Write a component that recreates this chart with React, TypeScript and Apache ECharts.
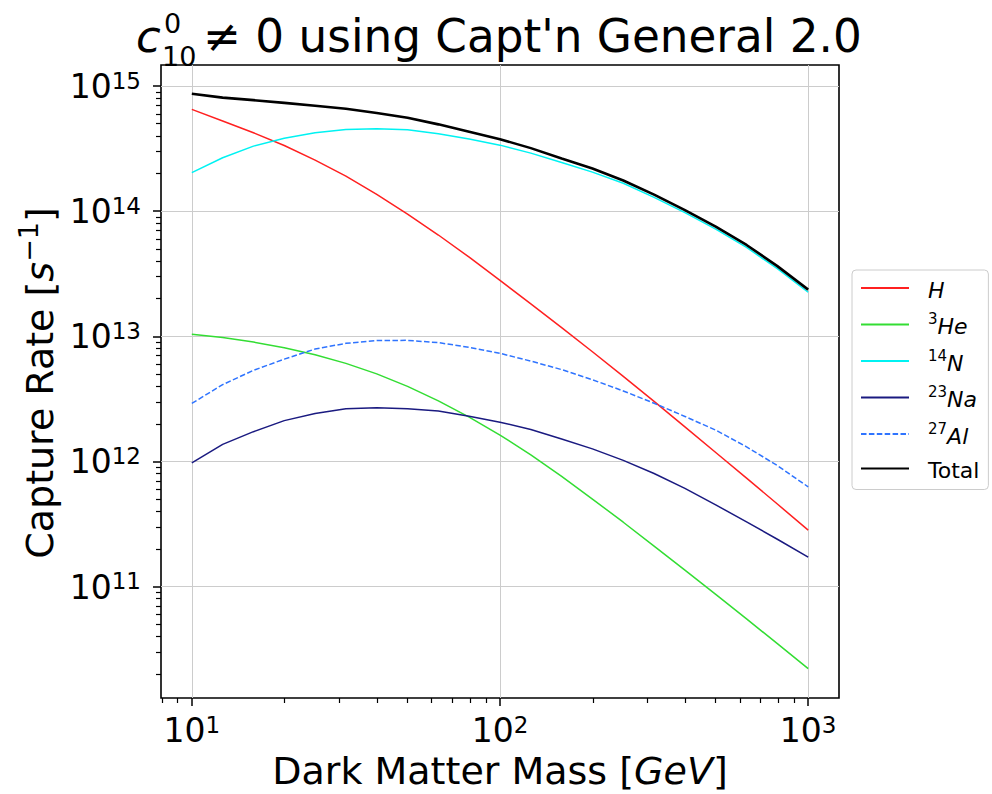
import React, { useEffect, useRef } from "react";
import * as echarts from "echarts";

// Dark matter mass grid [GeV]
const massGeV = [10, 12.59, 15.85, 19.95, 25.12, 31.62, 39.81, 50.12, 63.1, 79.43, 100, 125.9, 158.5, 199.5, 251.2, 316.2, 398.1, 501.2, 631.0, 794.3, 1000];

// Capture rates [1/s] per target element
const rateH = [6.51e14, 5.255e14, 4.233e14, 3.347e14, 2.556e14, 1.904e14, 1.363e14, 9.48e13, 6.45e13, 4.29e13, 2.8e13, 1.818e13, 1.174e13, 7.53e12, 4.78e12, 3.02e12, 1.891e12, 1.179e12, 7.36e11, 4.57e11, 2.83e11];
const rateHe3 = [1.04e13, 9.77e12, 8.99e12, 8.11e12, 7.13e12, 6.08e12, 5.01e12, 3.98e12, 3.05e12, 2.26e12, 1.626e12, 1.13e12, 7.6e11, 5.01e11, 3.27e11, 2.11e11, 1.355e11, 8.67e10, 5.52e10, 3.5e10, 2.21e10];
const rateN14 = [2.03e14, 2.67e14, 3.31e14, 3.82e14, 4.23e14, 4.5e14, 4.55e14, 4.47e14, 4.15e14, 3.77e14, 3.37e14, 2.91e14, 2.45e14, 2.05e14, 1.67e14, 1.29e14, 9.73e13, 7.18e13, 5.13e13, 3.47e13, 2.25e13];
const rateNa23 = [9.76e11, 1.37e12, 1.73e12, 2.12e12, 2.42e12, 2.64e12, 2.69e12, 2.64e12, 2.53e12, 2.3e12, 2.06e12, 1.8e12, 1.51e12, 1.26e12, 1.02e12, 8.02e11, 6.09e11, 4.5e11, 3.29e11, 2.39e11, 1.72e11];
const rateAl27 = [2.91e12, 4.11e12, 5.35e12, 6.57e12, 7.91e12, 8.79e12, 9.24e12, 9.29e12, 8.9e12, 8.17e12, 7.31e12, 6.34e12, 5.42e12, 4.5e12, 3.66e12, 2.92e12, 2.29e12, 1.78e12, 1.31e12, 9.27e11, 6.27e11];
const rateTotal = [8.67e14, 8.08e14, 7.71e14, 7.34e14, 6.96e14, 6.58e14, 6.08e14, 5.58e14, 4.94e14, 4.32e14, 3.76e14, 3.19e14, 2.64e14, 2.19e14, 1.76e14, 1.357e14, 1.02e14, 7.53e13, 5.37e13, 3.64e13, 2.36e13];

const seriesNames = ["H", "3He", "14N", "23Na", "27Al", "Total"];

// Major tick values
const majorX = [10, 100, 1000];
const majorY = [1e11, 1e12, 1e13, 1e14, 1e15];

const FONT = "DejaVu Sans";
const X_MIN = Math.pow(10, 0.9);
const X_MAX = Math.pow(10, 3.1);
const Y_MIN = Math.pow(10, 10.11);
const Y_MAX = Math.pow(10, 15.168);

function minorTicks(lo: number, hi: number): number[] {
  const out: number[] = [];
  for (let d = Math.floor(Math.log10(lo)); d <= Math.ceil(Math.log10(hi)); d++) {
    for (let k = 2; k <= 9; k++) {
      const v = k * Math.pow(10, d);
      if (v >= lo && v <= hi) out.push(v);
    }
  }
  return out;
}

const powLabel = (v: number) => `{b|10}{s|${Math.round(Math.log10(v))}}`;

const tickRich = {
  b: { fontFamily: FONT, fontSize: 33, color: "#000", lineHeight: 34, verticalAlign: "bottom" },
  s: { fontFamily: FONT, fontSize: 23, color: "#000", lineHeight: 16, verticalAlign: "top" },
};

const legendLabels: Record<string, string> = {
  H: "{g| }{it|H}",
  "3He": "{g| }{sup|3}{it|He}",
  "14N": "{g| }{sup|14}{it|N}",
  "23Na": "{g| }{sup|23}{it|Na}",
  "27Al": "{g| }{sup|27}{it|Al}",
  Total: "{g| }{n|Total}",
};

const seriesStyles: Record<string, { color: string; width: number; type?: any }> = {
  H: { color: "#ff2020", width: 1.5 },
  "3He": { color: "#33dd33", width: 1.5 },
  "14N": { color: "#00f2f2", width: 1.5 },
  "23Na": { color: "#1a1a80", width: 1.5 },
  "27Al": { color: "#2f74ff", width: 1.5, type: [5.5, 2.4] },
  Total: { color: "#000000", width: 2.6 },
};

const seriesValues = [rateH, rateHe3, rateN14, rateNa23, rateAl27, rateTotal];

function buildOption(): echarts.EChartsOption {
  const grid = { left: 161, top: 65, width: 678, height: 633, show: true, borderColor: "#000", borderWidth: 1.6, backgroundColor: "transparent" };

  const xMajor: any = {
    type: "log",
    logBase: 10,
    gridIndex: 0,
    position: "bottom",
    min: X_MIN,
    max: X_MAX,
    axisLine: { show: false },
    axisTick: { show: true, inside: false, length: 8, customValues: majorX, lineStyle: { color: "#000", width: 1.5 } },
    minorTick: { show: false },
    axisLabel: { show: true, customValues: majorX, margin: 15, formatter: powLabel, rich: tickRich },
    splitLine: { show: true, lineStyle: { color: "#cccccc", width: 1 } },
  };
  const xMinor: any = {
    type: "log",
    logBase: 10,
    gridIndex: 0,
    position: "bottom",
    min: X_MIN,
    max: X_MAX,
    axisLine: { show: false },
    axisTick: { show: true, inside: false, length: 5, customValues: minorTicks(X_MIN, X_MAX), lineStyle: { color: "#000", width: 1.2 } },
    axisLabel: { show: false },
    splitLine: { show: false },
  };
  const yMajor: any = {
    type: "log",
    logBase: 10,
    gridIndex: 0,
    position: "left",
    min: Y_MIN,
    max: Y_MAX,
    axisLine: { show: false },
    axisTick: { show: true, inside: false, length: 8, customValues: majorY, lineStyle: { color: "#000", width: 1.5 } },
    minorTick: { show: false },
    axisLabel: { show: true, customValues: majorY, margin: 20, formatter: powLabel, rich: tickRich },
    splitLine: { show: true, lineStyle: { color: "#cccccc", width: 1 } },
  };
  const yMinor: any = {
    type: "log",
    logBase: 10,
    gridIndex: 0,
    position: "left",
    min: Y_MIN,
    max: Y_MAX,
    axisLine: { show: false },
    axisTick: { show: true, inside: false, length: 5, customValues: minorTicks(Y_MIN, Y_MAX), lineStyle: { color: "#000", width: 1.2 } },
    axisLabel: { show: false },
    splitLine: { show: false },
  };

  const series: any[] = seriesNames.map((name, si) => {
    const st = seriesStyles[name];
    return {
      name,
      type: "line",
      xAxisIndex: 0,
      yAxisIndex: 0,
      data: massGeV.map((m, i) => [m, seriesValues[si][i]]),
      symbol: "none",
      showSymbol: false,
      silent: true,
      itemStyle: { color: st.color },
      lineStyle: { color: st.color, width: st.width, type: st.type ?? "solid" },
      z: 2 + si,
    };
  });

  const legendRich = {
    g: { width: 14, fontSize: 22, lineHeight: 26 },
    it: { fontFamily: FONT, fontStyle: "italic", fontSize: 22, lineHeight: 26, color: "#000", verticalAlign: "bottom" },
    n: { fontFamily: FONT, fontSize: 22, lineHeight: 26, color: "#000", verticalAlign: "bottom" },
    sup: { fontFamily: FONT, fontSize: 15, lineHeight: 16, color: "#000", verticalAlign: "top" },
  };

  return {
    animation: false,
    backgroundColor: "#ffffff",
    grid,
    xAxis: [xMajor, xMinor],
    yAxis: [yMajor, yMinor],
    legend: {
      orient: "vertical",
      left: 852,
      top: 270,
      itemWidth: 48,
      itemHeight: 14,
      itemGap: 10.5,
      padding: [7, 9, 8, 8],
      borderColor: "#cccccc",
      borderWidth: 1,
      borderRadius: 4,
      backgroundColor: "rgba(255,255,255,0.8)",
      selectedMode: false,
      itemStyle: { opacity: 0 },
      data: seriesNames,
      formatter: (name: string) => legendLabels[name],
      textStyle: { fontFamily: FONT, fontSize: 22, color: "#000", rich: legendRich },
    },
    graphic: [
      // Title: c^0_10 ≠ 0 using Capt'n General 2.0
      { type: "text", x: 136, y: 36.3, style: { text: "c", fontFamily: FONT, fontStyle: "italic", fontSize: 45, lineHeight: 30, fill: "#000", align: "left", verticalAlign: "middle" } },
      { type: "text", x: 164, y: 23.5, style: { text: "0", fontFamily: FONT, fontSize: 27, lineHeight: 24, fill: "#000", align: "left", verticalAlign: "middle" } },
      { type: "text", x: 162, y: 56.5, style: { text: "10", fontFamily: FONT, fontSize: 27, lineHeight: 24, fill: "#000", align: "left", verticalAlign: "middle" } },
      { type: "text", x: 203, y: 36.3, style: { text: "\u2260 0 using Capt'n General 2.0", fontFamily: FONT, fontSize: 45.3, lineHeight: 40, fill: "#000", align: "left", verticalAlign: "middle" } },
      // Axis titles
      {
        type: "text",
        x: 500,
        y: 771,
        style: {
          text: "{n|Dark Matter Mass [}{i|GeV}{n|]}",
          align: "center",
          verticalAlign: "middle",
          rich: {
            n: { fontFamily: FONT, fontSize: 38, fill: "#000", lineHeight: 44 },
            i: { fontFamily: FONT, fontSize: 38, fontStyle: "italic", fill: "#000", lineHeight: 44 },
          },
        },
      },
      {
        type: "text",
        x: 37,
        y: 383,
        rotation: Math.PI / 2,
        style: {
          text: "{n|Capture Rate [}{i|s}{s|\u22121}{n|]}",
          align: "center",
          verticalAlign: "middle",
          rich: {
            n: { fontFamily: FONT, fontSize: 38, fill: "#000", lineHeight: 44, verticalAlign: "bottom" },
            i: { fontFamily: FONT, fontSize: 38, fontStyle: "italic", fill: "#000", lineHeight: 44, verticalAlign: "bottom" },
            s: { fontFamily: FONT, fontSize: 27, fill: "#000", lineHeight: 24, verticalAlign: "top" },
          },
        },
      },
    ],
    series,
  } as any;
}

export default function App() {
  const ref = useRef<HTMLDivElement>(null);
  useEffect(() => {
    if (!ref.current) return;
    const chart = echarts.init(ref.current, null, { renderer: "svg" });
    chart.setOption(buildOption());
    return () => chart.dispose();
  }, []);
  return <div ref={ref} style={{ position: "fixed", left: 0, top: 0, width: 992, height: 794, background: "#fff" }} />;
}
